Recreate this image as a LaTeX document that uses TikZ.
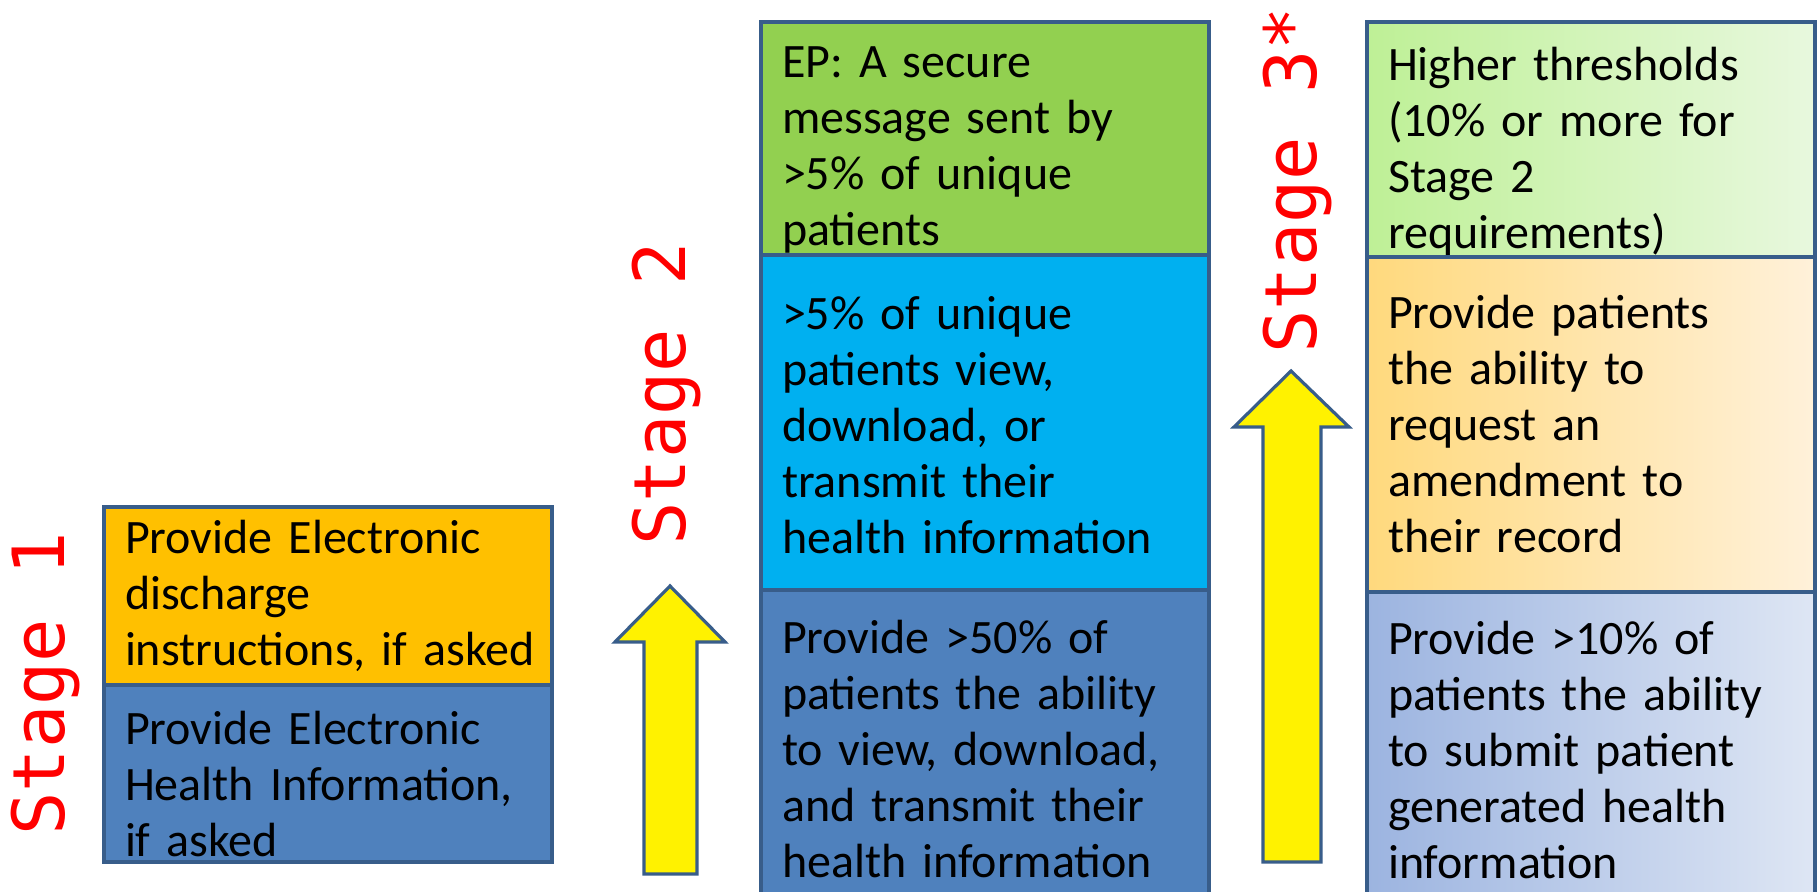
\documentclass[tikz,border=0pt]{standalone}
\usepackage{fontspec}
\setmainfont{Carlito}
\newfontfamily\stagefont{DejaVu Sans Mono}
\definecolor{boxline}{RGB}{56,93,138}
\definecolor{darkblue}{RGB}{79,129,189}
\definecolor{amber}{RGB}{255,192,0}
\definecolor{leaf}{RGB}{146,208,80}
\definecolor{sky}{RGB}{0,176,240}
\begin{document}
\begin{tikzpicture}[x=0.5pt,y=-0.5pt,
  box/.style={draw=boxline,line width=1.6pt,anchor=north west,align=left,outer sep=0pt,
    inner xsep=10.5pt,inner ysep=0pt,text width=203pt,minimum width=224pt,
    font=\fontsize{24}{28}\selectfont},
  pushdown/.style={execute at begin node={\rule{0pt}{#1}}},
  stage/.style={rotate=90,anchor=west,inner sep=0pt,text=red,
    font=\stagefont\fontsize{36}{40}\selectfont},
  uparrow/.style={draw=boxline,line width=1.6pt,fill=yellow,line join=miter}]

\path[use as bounding box,clip] (0,0) rectangle (1820,892);
\fill[white] (0,0) rectangle (1820,892);

% stage 1
\node[box,fill=amber,minimum height=89pt] (s1top) at (104,507) {Provide Electronic\\discharge\\instructions,~if~asked};
\node[box,fill=darkblue,minimum height=88.5pt,pushdown=27.5pt] (s1bot) at (104,685) {Provide Electronic\\Health~Information,\\if asked};
\node[stage] (s1) at (46,836) {Stage 1};

\draw[uparrow] (670,586) -- (725,642) -- (697,642) -- (697,874) -- (644,874) -- (644,642) -- (615,642) -- cycle;

% stage 2
\node[box,fill=leaf,minimum height=116.5pt,pushdown=26.5pt] (s2top) at (761,22) {EP: A secure\\message sent by\\>5\% of unique\\patients};
\node[box,fill=sky,minimum height=167.5pt,pushdown=19pt] (s2mid) at (761,255) {>5\% of unique\\patients view,\\download, or\\transmit their\\health information};
\node[box,fill=darkblue,minimum height=159pt] (s2bot) at (761,590) {Provide >50\% of\\patients the ability\\to view, download,\\and transmit their\\health information};
\node[stage] (s2) at (667,546) {Stage 2};

\draw[uparrow] (1291,371) -- (1349,427) -- (1321,427) -- (1321,862) -- (1263,862) -- (1263,427) -- (1234,427) -- cycle;

% stage 3
\node[box,left color={rgb,255:red,190;green,240;blue,150},right color={rgb,255:red,232;green,248;blue,222},minimum height=117.5pt,pushdown=29pt] (s3top) at (1367,22) {Higher thresholds\\(10\% or more for\\Stage 2\\requirements)};
\node[box,left color={rgb,255:red,255;green,217;blue,125},right color={rgb,255:red,255;green,241;blue,218},minimum height=167.5pt] (s3mid) at (1367,257) {Provide patients\\the ability to\\request an\\amendment to\\their record};
\node[box,left color={rgb,255:red,156;green,180;blue,224},right color={rgb,255:red,222;green,230;blue,244},minimum height=158pt] (s3bot) at (1367,592) {Provide >10\% of\\patients the ability\\to submit patient\\generated health\\information};
\node[stage] (s3) at (1297,354) {Stage 3*};

\end{tikzpicture}
\end{document}
